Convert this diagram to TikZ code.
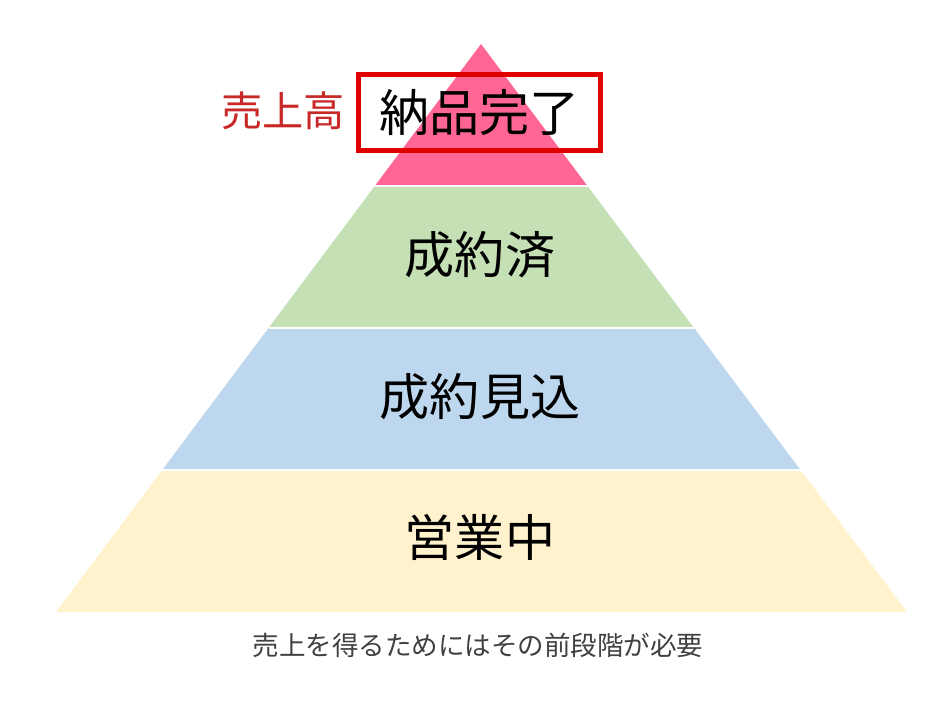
\documentclass[tikz,border=0pt]{standalone}
\usepackage{fontspec}
\usepackage{xcolor}
\usepackage{tikz}
\usetikzlibrary{calc,positioning}
\setmainfont{Noto Sans CJK JP}
\definecolor{pyrPink}{RGB}{255,102,148}
\definecolor{pyrGreen}{RGB}{197,224,180}
\definecolor{pyrBlue}{RGB}{189,215,238}
\definecolor{pyrYellow}{RGB}{255,242,204}
\definecolor{boxRed}{RGB}{224,0,0}
\definecolor{salesRed}{RGB}{200,40,40}
\definecolor{capGray}{RGB}{64,64,64}
\tikzset{
  layertext/.style={text=black, font=\fontsize{28.5pt}{32pt}\selectfont, inner sep=0pt},
  gapline/.style={white, line width=1.2pt}
}

\begin{document}
\begin{tikzpicture}[x=0.02cm,y=-0.02cm]
\useasboundingbox (0,0) rectangle (947,720);
\coordinate (apex) at (481,44);
\coordinate (bl) at (56,612);
\coordinate (br) at (907,612);

\fill[pyrPink] (apex) -- ($(apex)!0.25!(br)$) -- ($(apex)!0.25!(bl)$) -- cycle;
\fill[pyrGreen] ($(apex)!0.25!(bl)$) -- ($(apex)!0.25!(br)$) -- ($(apex)!0.5!(br)$) -- ($(apex)!0.5!(bl)$) -- cycle;
\fill[pyrBlue] ($(apex)!0.5!(bl)$) -- ($(apex)!0.5!(br)$) -- ($(apex)!0.75!(br)$) -- ($(apex)!0.75!(bl)$) -- cycle;
\fill[pyrYellow] ($(apex)!0.75!(bl)$) -- ($(apex)!0.75!(br)$) -- (br) -- (bl) -- cycle;
\draw[gapline] ($(apex)!0.25!(bl)$) -- ($(apex)!0.25!(br)$);
\draw[gapline] ($(apex)!0.5!(bl)$) -- ($(apex)!0.5!(br)$);
\draw[gapline] ($(apex)!0.75!(bl)$) -- ($(apex)!0.75!(br)$);

\node[layertext, draw=boxRed, line width=2.8pt, minimum width=4.84cm, minimum height=1.52cm] (done) at (479.5,112.5) {納品完了};
\node[text=salesRed, font=\fontsize{23.5pt}{26pt}\selectfont, inner sep=0pt] (sales) at (283,111) {売上高};
\node[layertext] (closed) at (480,255) {成約済};
\node[layertext] (prospect) at (480,397) {成約見込};
\node[layertext] (active) at (480,537) {営業中};
\node[text=capGray, font=\fontsize{15.1pt}{18pt}\selectfont, inner sep=0pt] (caption) at (478,645) {売上を得るためにはその前段階が必要};
\end{tikzpicture}
\end{document}
